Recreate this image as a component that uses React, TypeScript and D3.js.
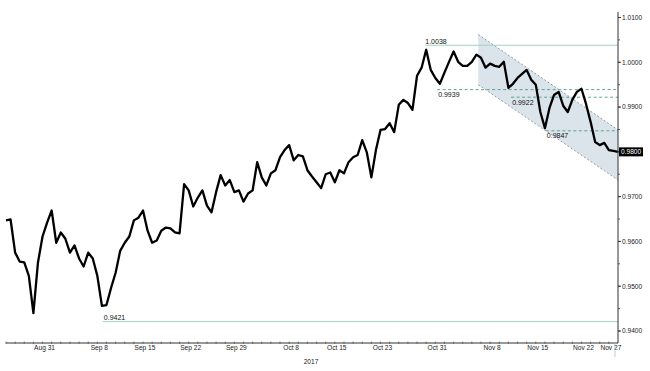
import * as d3 from "d3"

// trading-day series, two closes per session, starting Fri Aug 25 2017
const startDate = new Date(2017, 7, 25)
const closes = [
  0.9647, 0.9649, 0.9575, 0.9555, 0.9553, 0.9523, 0.944, 0.9553, 0.9611, 0.9642,
  0.9669, 0.9597, 0.962, 0.9606, 0.9575, 0.9591, 0.9562, 0.9544, 0.9575, 0.9562,
  0.9523, 0.9456, 0.9458, 0.9496, 0.953, 0.9579, 0.9597, 0.9611, 0.9647, 0.9653,
  0.9669, 0.9624, 0.9597, 0.9602, 0.9624, 0.9631, 0.9629, 0.962, 0.9618, 0.9728,
  0.9714, 0.9678, 0.9698, 0.9714, 0.968, 0.9665, 0.971, 0.9748, 0.9725, 0.9737,
  0.971, 0.9714, 0.9689, 0.9707, 0.9714, 0.9777, 0.9743, 0.9725, 0.9752, 0.9759,
  0.9788, 0.9804, 0.9815, 0.9781, 0.9793, 0.979, 0.9759, 0.9745, 0.9732, 0.9719,
  0.975, 0.9754, 0.9732, 0.9759, 0.9752, 0.9777, 0.9788, 0.9793, 0.9826, 0.9799,
  0.9743, 0.9804, 0.9849, 0.9851, 0.9864, 0.9844, 0.9905, 0.9916, 0.9909, 0.9894,
  0.997, 0.9988, 1.0028, 0.9983, 0.9965, 0.9952, 0.9977, 1.0001, 1.0024, 1.0001,
  0.9992, 0.9992, 1.0001, 1.0017, 1.001, 0.9988, 0.9997, 0.9992, 0.999, 1.0001,
  0.9943, 0.9952, 0.9965, 0.9974, 0.9983, 0.9961, 0.995, 0.9889, 0.9853, 0.9898,
  0.9927, 0.9934, 0.9903, 0.9889, 0.9916, 0.9934, 0.9941, 0.9907, 0.9867, 0.9822,
  0.9815, 0.982, 0.9804, 0.9802, 0.98,
]

const tickDates = [
  "2017-08-31", "2017-09-08", "2017-09-15", "2017-09-22", "2017-09-29", "2017-10-08", "2017-10-15",
  "2017-10-23", "2017-10-31", "2017-11-08", "2017-11-15", "2017-11-22", "2017-11-27",
]
const yTicks = [0.94, 0.95, 0.96, 0.97, 0.98, 0.99, 1.0, 1.01]

// marked highs / lows: [value, session index where the line starts]
const solidLevels: [number, number][] = [
  [1.0038, 45.9],
  [0.9421, 10.6],
]
const dashedLevels: [number, number][] = [
  [0.9939, 47.2],
  [0.9922, 55.3],
  [0.9847, 59.1],
]
// falling channel: [start index, end index], upper and lower edge values
const channelX = [51.7, 67]
const channelUpper = [1.0062, 0.9849]
const channelLower = [0.995, 0.9737]

const W = 650
const H = 371
const font = "'Liberation Sans', Arial, sans-serif"

const parse = d3.timeParse("%Y-%m-%d")
const fmtTick = d3.timeFormat("%b %-d")

// weekdays from the start date up to (not including) the given date
function sessionIndex(date: Date) {
  return d3.timeDay.range(startDate, date).filter((d) => d.getDay() !== 0 && d.getDay() !== 6).length
}

export default function App() {
  const x = d3.scaleLinear().domain([0, 67]).range([6, 618])
  const y = d3.scaleLinear().domain([0.94, 1.01]).range([331, 17.5])
  const axisX = 618
  const axisY = 343

  const series = closes.map((v, i) => ({ i: i * 0.5, v }))
  const line = d3
    .line<{ i: number; v: number }>()
    .x((d) => x(d.i))
    .y((d) => y(d.v))

  const channelPath = d3.line()([
    [x(channelX[0]), y(channelUpper[0])],
    [x(channelX[1]), y(channelUpper[1])],
    [x(channelX[1]), y(channelLower[1])],
    [x(channelX[0]), y(channelLower[0])],
  ])

  const minorY = d3.range(0.94, 1.0101, 0.005)
  const dayTicks = d3.range(0, 67)
  const last = closes[closes.length - 1]

  return (
    <div style={{ position: "fixed", left: 0, top: 0 }}>
      <svg width={W} height={H} style={{ display: "block", background: "#fff" }}>
        {/* channel */}
        <path d={channelPath ?? ""} fill="#dbe3eb" />
        <line x1={x(channelX[0])} y1={y(channelUpper[0])} x2={x(channelX[1])} y2={y(channelUpper[1])}
          stroke="#7d848c" strokeWidth={0.8} strokeDasharray="2,2" />
        <line x1={x(channelX[0])} y1={y(channelLower[0])} x2={x(channelX[1])} y2={y(channelLower[1])}
          stroke="#7d848c" strokeWidth={0.8} strokeDasharray="2,2" />

        {/* levels */}
        {solidLevels.map(([v, s]) => (
          <line key={v} x1={x(s)} x2={axisX} y1={y(v)} y2={y(v)} stroke="#9fd5c1" strokeWidth={1} />
        ))}
        {dashedLevels.map(([v, s]) => (
          <line key={v} x1={x(s)} x2={axisX} y1={y(v)} y2={y(v)} stroke="#4a9e86" strokeWidth={0.9} strokeDasharray="3,2.5" />
        ))}

        {/* price */}
        <path d={line(series) ?? ""} fill="none" stroke="#000" strokeWidth={2.3} strokeLinejoin="round" />

        {/* level labels */}
        <g fontFamily={font} fontSize={7} fill="#111">
          <text x={x(solidLevels[0][1])} y={y(solidLevels[0][0]) - 1.5}>{solidLevels[0][0].toFixed(4)}</text>
          <text x={x(solidLevels[1][1]) + 1} y={y(solidLevels[1][0]) - 1.5}>{solidLevels[1][0].toFixed(4)}</text>
          {dashedLevels.map(([v, s]) => (
            <text key={v} x={x(s) + 1} y={y(v) + 7.5}>{v.toFixed(4)}</text>
          ))}
        </g>

        {/* right axis */}
        <line x1={axisX} x2={axisX} y1={12} y2={axisY} stroke="#333" strokeWidth={1} />
        {minorY.map((v) => (
          <line key={v} x1={axisX} x2={axisX + 2} y1={y(v)} y2={y(v)} stroke="#333" strokeWidth={0.8} />
        ))}
        <g fontFamily={font} fontSize={6.6} fill="#222">
          {yTicks.map((v) => (
            <g key={v}>
              <line x1={axisX} x2={axisX + 3} y1={y(v)} y2={y(v)} stroke="#333" strokeWidth={1} />
              <text x={axisX + 4} y={y(v)} dy="0.35em">{v.toFixed(4)}</text>
            </g>
          ))}
        </g>
        <rect x={axisX + 1} y={y(last) - 4.5} width={24} height={9} fill="#000" />
        <text x={axisX + 3} y={y(last)} dy="0.35em" fontFamily={font} fontSize={6.6} fill="#fff">{last.toFixed(4)}</text>

        {/* bottom axis */}
        <line x1={6} x2={axisX} y1={axisY} y2={axisY} stroke="#333" strokeWidth={1} />
        {dayTicks.map((d) => (
          <line key={d} x1={x(d)} x2={x(d)} y1={axisY - 1.5} y2={axisY + 1} stroke="#555" strokeWidth={0.7} />
        ))}
        <g fontFamily={font} fontSize={6.6} fill="#222" textAnchor="middle">
          {tickDates.map((s) => {
            const dt = parse(s) as Date
            return (
              <text key={s} x={x(sessionIndex(dt)) + 2} y={axisY + 7}>{fmtTick(dt)}</text>
            )
          })}
          <text x={311} y={axisY + 21}>2017</text>
        </g>
        <line x1={615} x2={615} y1={axisY} y2={axisY + 14} stroke="#bbb" strokeWidth={0.8} />
      </svg>
    </div>
  )
}
